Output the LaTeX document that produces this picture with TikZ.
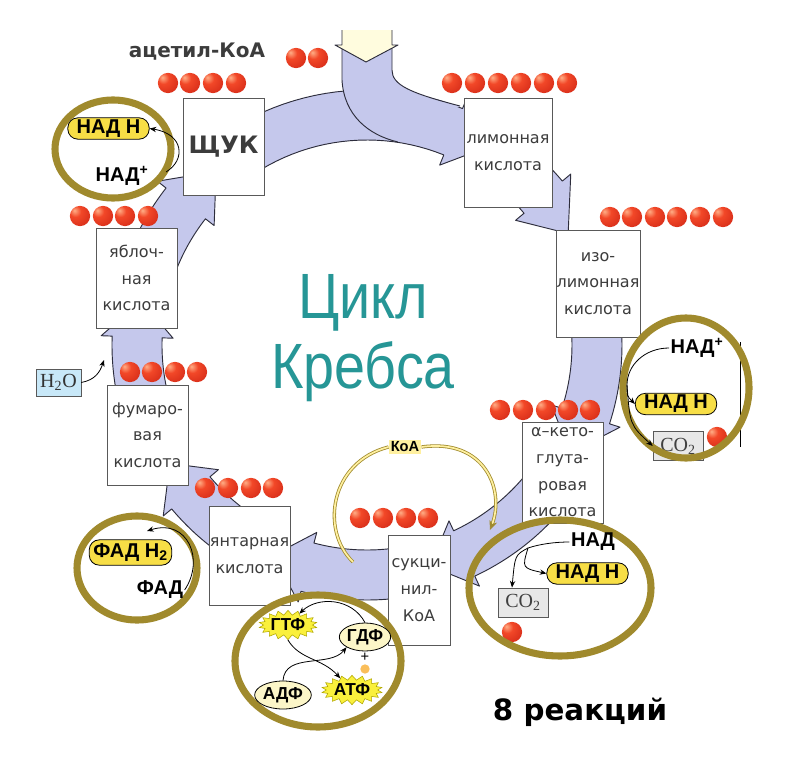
\documentclass[tikz,border=0pt]{standalone}
\usepackage{fontspec}
\setmainfont{DejaVu Sans}
\newfontfamily\lib{Liberation Sans}
\newfontfamily\serf{Liberation Serif}
\usetikzlibrary{shapes.geometric,shapes.symbols,arrows.meta}
\definecolor{bandfill}{RGB}{197,200,236}
\definecolor{bandline}{RGB}{45,45,60}
\definecolor{ringgold}{RGB}{160,138,45}
\definecolor{pillyellow}{RGB}{247,222,70}
\definecolor{txtgray}{RGB}{60,60,60}
\definecolor{tealtxt}{RGB}{38,150,150}
\definecolor{ballhi}{RGB}{255,175,135}
\definecolor{ballmid}{RGB}{242,72,40}
\definecolor{balldark}{RGB}{205,35,20}
\definecolor{ballrim}{RGB}{250,200,205}
\definecolor{h2oblue}{RGB}{200,232,248}
\definecolor{cogray}{RGB}{232,232,232}
\definecolor{paleyel}{RGB}{255,252,222}
\definecolor{koayel}{RGB}{255,240,160}
\definecolor{burstyel}{RGB}{250,240,60}
\definecolor{ellyel}{RGB}{252,246,200}
\definecolor{dotorange}{RGB}{250,190,90}
\pgfdeclareradialshading{redball}{\pgfpoint{-14bp}{14bp}}{color(0bp)=(ballhi); color(14bp)=(ballmid); color(46bp)=(balldark); color(52bp)=(ballrim); color(80bp)=(ballrim)}
\newcommand\ringseg[3]{%
  \fill[bandfill] (#1:255) -- plot[domain=#1:#2,samples=25] (\x:255) -- (#2:266) -- (#3:230) -- (#2:194) -- (#2:205) -- plot[domain=#2:#1,samples=25] (\x:205) -- cycle;
  \draw[bandline,line width=0.7pt,line join=round] plot[domain=#1:#2,samples=25] (\x:255) -- (#2:266) -- (#3:230) -- (#2:194) -- (#2:205) -- plot[domain=#2:#1,samples=25] (\x:205);
}
\begin{document}
\begin{tikzpicture}[x=0.75pt,y=-0.75pt,
  kbox/.style={draw=gray!70!black,fill=white,line width=0.6pt,align=center,text=txtgray,font=\fontsize{12}{20}\selectfont,inner sep=0pt},
  pill/.style={draw=black,line width=0.6pt,fill=pillyellow,rounded corners=7.5pt,font=\lib\bfseries\fontsize{15}{15}\selectfont,inner xsep=3pt,inner ysep=0pt,minimum width=61pt,minimum height=16pt},
  blab/.style={font=\lib\bfseries\fontsize{15}{15}\selectfont,inner sep=1pt},
  gring/.style={draw=ringgold,line width=5.3pt},
  arr/.style={-{Stealth[length=5pt,width=4pt]},line width=0.6pt,black},
  koaline/.style={draw=ringgold,double=koayel,double distance=1.3pt,line width=0.6pt},
  co2/.style={draw=gray!70!black,fill=cogray,font=\serf\fontsize{15}{15}\selectfont,text=black!75,minimum width=37.5pt,minimum height=22pt,inner sep=1pt},
  burst/.style={starburst,starburst points=18,starburst point height=3.5pt,random starburst=0,fill=burstyel,draw=olive!70!yellow,line width=0.4pt,font=\lib\bfseries\fontsize{13}{13}\selectfont,inner sep=0pt,minimum width=30pt,minimum height=22pt},
  ell/.style={ellipse,draw=black,line width=0.6pt,fill=ellyel,font=\lib\bfseries\fontsize{13}{13}\selectfont,inner sep=0pt,minimum width=34pt,minimum height=21pt}
]
\useasboundingbox (0,0) rectangle (800,771);
\fill[white] (0,0) rectangle (800,771);

% ring of arrows
\begin{scope}[shift={(367,345)}]
  \ringseg{234}{292}{301}
  \ringseg{306}{320}{331}
  \ringseg{345}{378}{388}
  \ringseg{393}{425}{434}
  \ringseg{438}{465}{474}
  \ringseg{479}{500}{509}
  \ringseg{518}{542}{551}
  \ringseg{556}{578}{589}
\end{scope}

% incoming acetyl-CoA arrow
\fill[bandfill] (342,45) -- (342,80) .. controls (344,115) and (368,135) .. (398,142) -- (460,106) .. controls (410,93) and (392,85) .. (392,70) -- (392,45) -- cycle;
\draw[bandline,line width=0.7pt] (342,45) -- (342,80) .. controls (344,115) and (368,135) .. (398,142);
\draw[bandline,line width=0.7pt] (392,45) -- (392,70) .. controls (392,85) and (410,93) .. (460,106);
\fill[paleyel] (342,30) -- (392,30) -- (392,45) -- (398,45) -- (366,62) -- (335,45) -- (342,45) -- cycle;
\draw[bandline,line width=0.7pt,line join=round] (342,30) -- (342,45) -- (335,45) -- (366,62) -- (398,45) -- (392,45) -- (392,30);

% CoA loop
\node[fill=koayel,inner sep=1.5pt,font=\lib\bfseries\fontsize{11}{11}\selectfont] (koa) at (405,447) {КоА};
\draw[koaline] (koa.west) .. controls (330,462) and (320,530) .. (353,562);
\draw[koaline,-{Stealth[length=7pt,width=6pt]}] (koa.east) .. controls (485,438) and (505,490) .. (490,530);

% boxes
\node[kbox,minimum width=60.75pt,minimum height=72.75pt,font=\bfseries\fontsize{18}{18}\selectfont] (shuk) at (223.5,146.5) {ЩУК};
\node[kbox,minimum width=66pt,minimum height=81.75pt] (limon) at (508,152.5) {лимонная\\кислота};
\node[kbox,minimum width=63pt,minimum height=80.25pt] (izo) at (598,283.5) {изо-\\лимонная\\кислота};
\node[kbox,minimum width=60.75pt,minimum height=75.75pt] (keto) at (562.5,472.5) {α–кето-\\глута-\\ровая\\кислота};
\node[kbox,minimum width=46.5pt,minimum height=82.5pt] (sukc) at (419,590) {сукци-\\нил-\\КоА};
\node[kbox,minimum width=60.75pt,minimum height=74.25pt] (yant) at (249.5,555.5) {янтарная\\кислота};
\node[kbox,minimum width=60.75pt,minimum height=75pt] (fum) at (147.5,435) {фумаро-\\вая\\кислота};
\node[kbox,minimum width=60.75pt,minimum height=75pt] (yabl) at (136.5,278) {яблоч-\\ная\\кислота};

% water
\node[draw=gray!70!black,fill=h2oblue,font=\serf\fontsize{15}{15}\selectfont,text=black!80,minimum width=33.75pt,minimum height=20pt,inner sep=1pt] (h2o) at (58.5,382.5) {H\textsubscript{2}O};
\coordinate (h2oend) at (104,360);
\draw[arr] (h2o.east) .. controls (95,380) and (100,372) .. (h2oend);

% red balls
\foreach \bx/\by in {296/58,318/58,
  168/83,190/83,213/83,236/83,
  452/83,475/83,498/83,521/83,544/83,567/83,
  610/217,632/217,655/217,677/217,700/217,723/217,
  80/216,103/216,125/216,148/216,
  130/372,152/372,175/372,197/372,
  205/488,228/488,251/488,273/488,
  360/518,383/518,406/518,428/518,
  500/410,523/410,546/410,568/410,590/410,
  512/632}
  \shade[shading=redball] (\bx,\by) circle[radius=7.6pt];

% titles
\node[anchor=base,text=txtgray,font=\bfseries\fontsize{15}{15}\selectfont] (acetyl) at (197,57) {ацетил-КоА};
\node[anchor=base,text=tealtxt,font=\lib\fontsize{48}{48}\selectfont,xscale=0.87] (tsikl) at (363,318) {Цикл};
\node[anchor=base,text=tealtxt,font=\lib\fontsize{48}{48}\selectfont,xscale=0.87] (krebs) at (363,388) {Кребса};
\node[anchor=base,text=black,font=\bfseries\fontsize{22}{22}\selectfont] (reac) at (580,720) {8 реакций};

% top-right CO2 (behind ring)
\node[co2] (co2a) at (678,446) {CO\textsubscript{2}};
\shade[shading=redball] (717,437) circle[radius=7.6pt];
\draw[line width=0.6pt] (740,342) -- (740,447);

% gold rings
\draw[gring] (113,149) ellipse[x radius=58,y radius=49];
\draw[gring] (686,388) ellipse[x radius=63,y radius=70];
\draw[gring] (560,588) ellipse[x radius=91,y radius=68];
\draw[gring] (137,568) ellipse[x radius=60,y radius=52];
\draw[gring] (318,661) ellipse[x radius=83,y radius=66];

% top-left circle
\node[pill] (nadh1) at (108.5,128.5) {НАД Н};
\node[blab] (nadp1) at (122,176) {НАД\textsuperscript{+}};
\draw[arr] (166,172) .. controls (186,160) and (184,134) .. (nadh1.east);

% top-right circle
\node[blab] (nadp2) at (697,348) {НАД\textsuperscript{+}};
\node[pill] (nadh2) at (676,404) {НАД Н};
\coordinate (trfork) at (627,385);
\draw[line width=0.6pt] (nadp2.west) .. controls (645,348) and (627,365) .. (trfork);
\draw[arr] (trfork) .. controls (627,396) .. (nadh2.west);
\draw[arr] (trfork) .. controls (630,425) .. (co2a.west);

% bottom-right circle
\node[blab] (nad3) at (593,542) {НАД};
\node[pill] (nadh3) at (587.5,573.5) {НАД Н};
\node[co2] (co2b) at (523,602.5) {CO\textsubscript{2}};
\coordinate (brfork) at (528,548);
\draw[line width=0.6pt] (nad3.west) .. controls (555,542) and (540,544) .. (brfork);
\draw[arr] (brfork) .. controls (515,555) .. (co2b.north -| 512,0);
\draw[arr] (brfork) .. controls (522,568) .. (nadh3.west);

% bottom-left circle
\node[pill,minimum height=19pt] (fadh) at (130.5,552.5) {ФАД Н\textsubscript{2}};
\node[blab] (fad) at (160,590) {ФАД};
\coordinate (fadend) at (147,531);
\draw[arr] (fad.east) .. controls (205,560) and (188,518) .. (fadend);

% bottom-middle circle
\node[burst] (gtf) at (288,625) {ГТФ};
\node[ell] (gdf) at (365,637) {ГДФ};
\node[ell] (adf) at (283,695) {АДФ};
\node[burst] (atf) at (352,690) {АТФ};
\node[font=\lib\fontsize{11}{11}\selectfont,inner sep=0pt] (plus) at (365,657) {+};
\fill[dotorange] (365,669) circle[radius=3.5pt];
\draw[arr] (gdf.north) .. controls (352,598) and (318,596) .. (gtf.north east);
\draw[arr] (gtf.south) .. controls (300,660) and (322,658) .. (atf.north west);
\draw[arr] (adf.north) .. controls (285,652) and (330,668) .. (gdf.south west);
\end{tikzpicture}
\end{document}
